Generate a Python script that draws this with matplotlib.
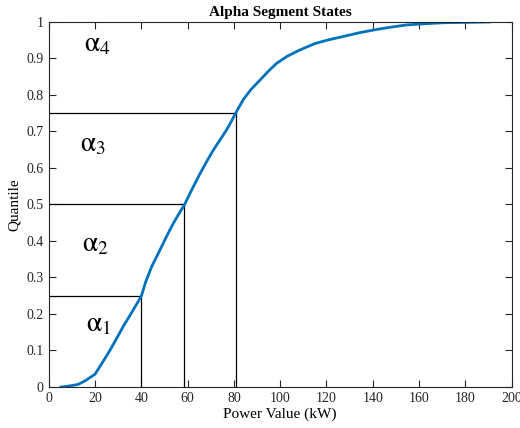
import numpy as np
import matplotlib as mpl
mpl.use('Agg')
import matplotlib.pyplot as plt

power = [5.3, 8.0, 12.7, 16.0, 20.0, 23.0, 26.5, 29.5, 32.1, 34.5, 36.5, 40.0, 42.0, 44.5,
         47.0, 49.5, 51.5, 53.8, 56.0, 58.6, 62.0, 65.4, 68.0, 71.1, 74.0, 76.9, 79.0,
         80.9, 84.1, 87.5, 91.3, 95.0, 98.5, 103.0, 108.0, 115.0, 120.8, 127.0, 134.5,
         142.0, 148.0, 154.6, 162.0, 170.5, 180.0, 190.3]
quantile = [0.0, 0.002, 0.007, 0.018, 0.035, 0.065, 0.101, 0.135, 0.165, 0.190, 0.211, 0.249,
            0.290, 0.330, 0.362, 0.394, 0.420, 0.448, 0.472, 0.499, 0.543, 0.585, 0.615,
            0.649, 0.677, 0.705, 0.729, 0.752, 0.788, 0.816, 0.841, 0.866, 0.887, 0.906,
            0.922, 0.941, 0.951, 0.960, 0.971, 0.980, 0.986, 0.992, 0.995, 0.998, 0.999, 1.0]

# segment boundaries
seg_q = [0.25, 0.5, 0.75]
seg_x = [40.0, 58.6, 80.9]

# state labels and their positions
labels = [r'$\mathrm{\alpha}_1$', r'$\mathrm{\alpha}_2$', r'$\mathrm{\alpha}_3$', r'$\mathrm{\alpha}_4$']
label_x = [16.0, 14.4, 13.5, 15.3]
label_y = [0.17, 0.389, 0.663, 0.937]

plt.rcParams['font.family'] = 'Liberation Serif'
plt.rcParams['mathtext.fontset'] = 'stix'

fig = plt.figure(figsize=(5.2, 4.28), dpi=100)
ax = fig.add_axes([0.0937, 0.0958, 0.8903, 0.8528])

for q, x in zip(seg_q, seg_x):
    ax.plot([0, x], [q, q], 'k-', lw=0.9)
    ax.plot([x, x], [0, q], 'k-', lw=0.9)

ax.plot(power, quantile, color='#0072BD', lw=2.0)

for t, x, y in zip(labels, label_x, label_y):
    ax.text(x, y, t, fontsize=20, ha='left', va='center')

ax.set_xlim(0, 200)
ax.set_ylim(0, 1)
ax.set_xticks(np.arange(0, 201, 20))
ax.set_yticks(np.arange(0, 1.01, 0.1))
ax.set_yticklabels(['0', '0.1', '0.2', '0.3', '0.4', '0.5', '0.6', '0.7', '0.8', '0.9', '1'])
ax.tick_params(direction='in', top=True, right=True, length=5, labelsize=10,
               colors='#262626')
for s in ax.spines.values():
    s.set_color('#262626')
    s.set_linewidth(0.8)
ax.set_xlabel('Power Value (kW)', fontsize=11, labelpad=2)
ax.set_ylabel('Quantile', fontsize=11, labelpad=4)
ax.set_title('Alpha Segment States', fontsize=11, fontweight='bold', pad=4)

plt.savefig('out.png', dpi=100)
